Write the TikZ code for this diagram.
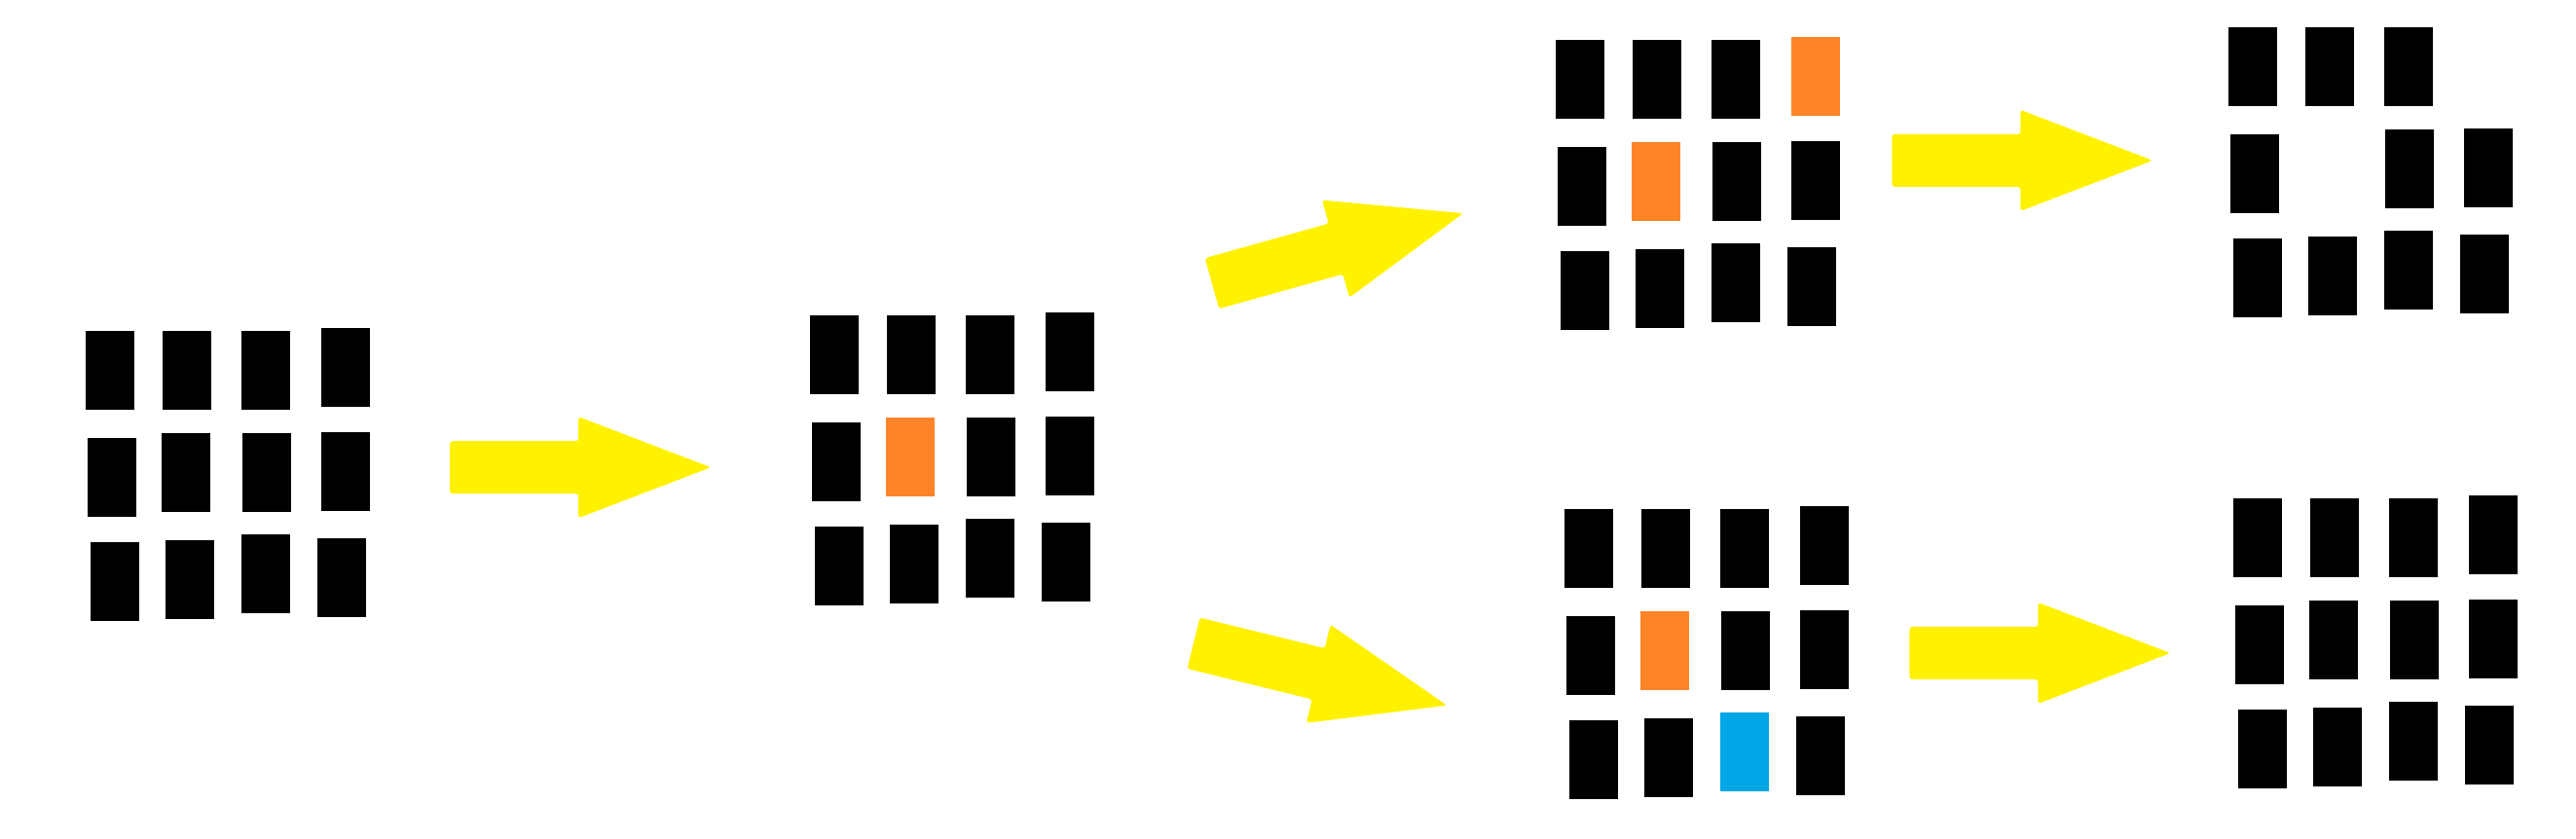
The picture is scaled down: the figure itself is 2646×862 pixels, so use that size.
\documentclass[tikz,border=0pt]{standalone}
\definecolor{myorange}{HTML}{FF8427}
\definecolor{myblue}{HTML}{00A6E6}
\definecolor{myyellow}{HTML}{FFF200}
\def\patt{0/0,79/0,160/0,242/-3,2/110,78/105,161/105,242/104,5/217,82/215,160/209,238/213}
\newcommand\mygrid[3]{%
  \foreach \dx/\dy [count=\i] in \patt {%
    \node[blk, c-#1-\i/.try] (#1-\i) at ({#2+\dx},{#3+\dy}) {};%
  }%
}
\begin{document}
\begin{tikzpicture}[x=0.01cm,y=-0.01cm,
  blk/.style={rectangle, fill=black, draw=none, inner sep=0pt,
    minimum width=5mm, minimum height=8.17mm, anchor=north west},
  yarrow/.pic={\fill[myyellow, rounded corners=0.8pt]
    (0,-27) -- (132,-27) -- (132,-52) -- (268,0) -- (132,52) -- (132,27) -- (0,27) -- cycle;},
  c-g2-6/.style={fill=myorange},
  c-g3-4/.style={fill=myorange},
  c-g3-6/.style={fill=myorange},
  c-g4-4/.style={fill=none},
  c-g4-6/.style={fill=none},
  c-g5-6/.style={fill=myorange},
  c-g5-11/.style={fill=myblue}]
\useasboundingbox (0,0) rectangle (2646,862);
\mygrid{g1}{87.2}{339}
\mygrid{g2}{830.9}{323}
\mygrid{g3}{1596.9}{40}
\mygrid{g4}{2288.2}{27}
\mygrid{g5}{1606.1}{522}
\mygrid{g6}{2293}{511}
\coordinate (a1) at (462.2,480.2);
\coordinate (a2) at (1244.9,291.2);
\coordinate (a3) at (1226,660.8);
\coordinate (a4) at (1943.3,164.9);
\coordinate (a5) at (1961.4,671);
\path (a1) pic {yarrow};
\path (a2) pic[rotate=15.6] {yarrow};
\path (a3) pic[rotate=-13.8] {yarrow};
\path (a4) pic {yarrow};
\path (a5) pic {yarrow};
\end{tikzpicture}
\end{document}
